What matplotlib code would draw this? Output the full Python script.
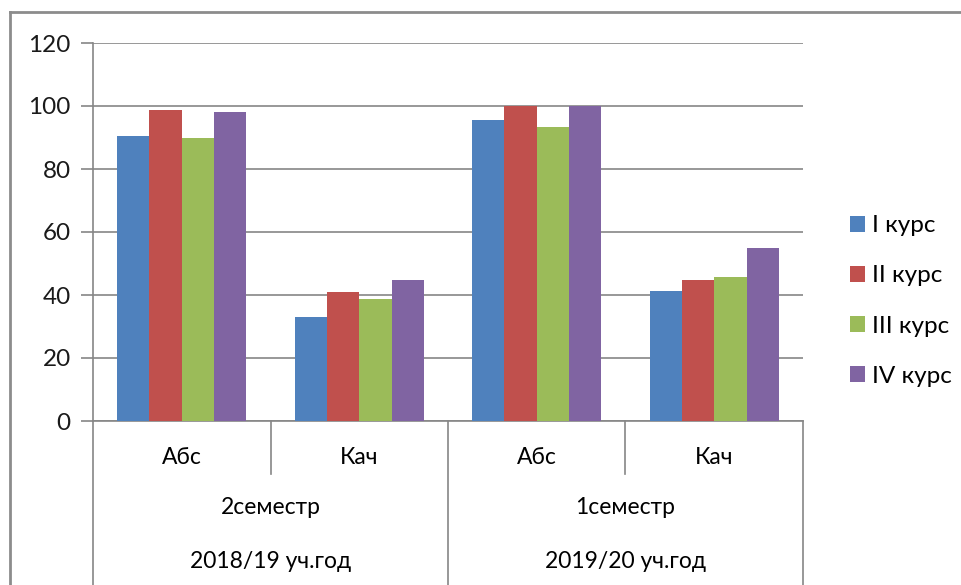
import numpy as np
import matplotlib.pyplot as plt
from matplotlib.lines import Line2D

plt.rcParams['font.family'] = ['Lato', 'Open Sans', 'DejaVu Sans']

# data
categories = ['Абс', 'Кач', 'Абс', 'Кач']
semesters = ['2семестр', '1семестр']
years = ['2018/19 уч.год', '2019/20 уч.год']
series_names = ['I курс', 'II курс', 'III курс', 'IV курс']
kurs1 = [90.4, 33.1, 95.7, 41.2]
kurs2 = [98.6, 40.8, 100, 44.8]
kurs3 = [90.0, 38.8, 93.3, 45.6]
kurs4 = [98.1, 44.8, 100, 55.0]
colors = ['#4F81BD', '#C0504D', '#9BBB59', '#8064A2']

W, H = 962, 585
fig = plt.figure(figsize=(W/100, H/100), dpi=100)

# plot area in pixels
x0, x1, ytop, ybot = 93, 803, 43, 421
ax = fig.add_axes([x0/W, 1-ybot/H, (x1-x0)/W, (ybot-ytop)/H])

gray = '#868686'
series = [kurs1, kurs2, kurs3, kurs4]
n = len(categories)
bw = 1/5.5   # excel gap width 150%
xc = np.arange(n) + 0.5
for j, vals in enumerate(series):
    ax.bar(xc + (j-1.5)*bw, vals, bw, color=colors[j], label=series_names[j],
           edgecolor='none', zorder=3)

ax.set_xlim(0, n)
ax.set_ylim(0, 120)
ax.set_yticks(np.arange(0, 121, 20))
ax.yaxis.grid(True, color=gray, lw=1.2)
ax.set_axisbelow(True)
ax.set_xticks([])
for s in ['top', 'right']:
    ax.spines[s].set_visible(False)
for s in ['left', 'bottom']:
    ax.spines[s].set_color(gray)
    ax.spines[s].set_linewidth(1.2)
ax.tick_params(axis='y', length=9, width=1.2, color=gray, labelsize=17.5,
               labelcolor='#1a1a1a', pad=7)

# multi-level category axis
axh = ybot - ytop
tr = ax.get_xaxis_transform()
def fy(py):
    return -(py - ybot)/axh

for xs in [1, 3]:
    ax.plot([xs, xs], [0, fy(474)], color=gray, lw=1.2, transform=tr, clip_on=False)
for xs in [0, 2, 4]:
    ax.plot([xs, xs], [0, fy(600)], color=gray, lw=1.2, transform=tr, clip_on=False)

for i, c in enumerate(categories):
    ax.text(i+0.5, fy(457), c, transform=tr, ha='center', va='center', fontsize=16.5)
for i, s in enumerate(semesters):
    ax.text(2*i+1, fy(508), s, transform=tr, ha='center', va='center', fontsize=16.5)
for i, y in enumerate(years):
    ax.text(2*i+1, fy(562), y, transform=tr, ha='center', va='center', fontsize=16.5)

# chart border (cropped on right and bottom)
bx, by = 10/W, 1-12/H
fig.add_artist(Line2D([bx, 1.01], [by, by], color='#8c8c8c', lw=2, transform=fig.transFigure))
fig.add_artist(Line2D([bx, bx], [by, -0.01], color='#8c8c8c', lw=2, transform=fig.transFigure))

fig.legend(loc='center left', bbox_to_anchor=(828/W, 1-301/H), frameon=False,
           fontsize=17.5, handlelength=0.62, handleheight=0.62, handletextpad=0.3,
           labelspacing=1.2)

fig.savefig('out.png', dpi=100)
